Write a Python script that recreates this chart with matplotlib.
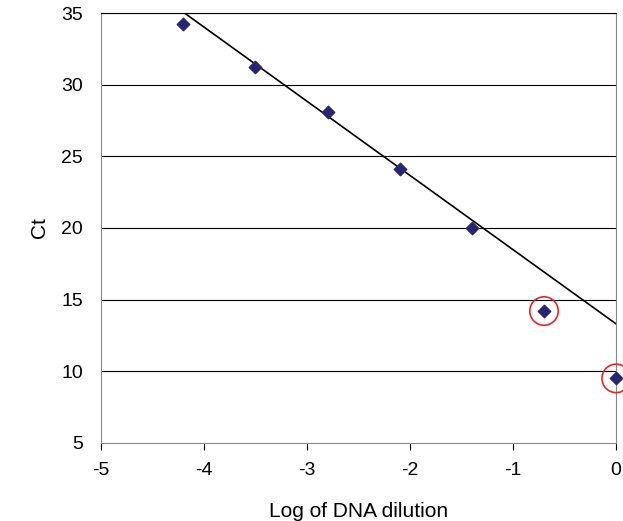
import matplotlib
matplotlib.use('Agg')
import matplotlib.pyplot as plt
import numpy as np

# data
log_dilution = [-4.2, -3.5, -2.8, -2.1, -1.4, -0.7, 0.0]
ct = [34.25, 31.25, 28.1, 24.1, 20.0, 14.2, 9.5]
outliers = [5, 6]            # circled points
trend_slope = -5.18
trend_intercept = 13.3

plt.rcParams['font.family'] = ['Liberation Sans', 'DejaVu Sans']
plt.rcParams['axes.unicode_minus'] = False

fig = plt.figure(figsize=(6.23, 5.21), dpi=100)
ax = fig.add_axes([0.162, 0.150, 0.827, 0.825])

ax.set_xlim(-5, 0)
ax.set_ylim(5, 35)
ax.set_yticks(range(5, 36, 5))
ax.set_xticks(range(-5, 1))

for y in range(10, 36, 5):
    ax.axhline(y, color='black', lw=0.8, zorder=1)

xs = np.array([-5.0, 0.0])
ax.plot(xs, trend_slope * xs + trend_intercept, color='black', lw=1.2, zorder=2)

ax.scatter(log_dilution, ct, marker='D', s=40, color='#262673', zorder=3, clip_on=False)
ax.scatter([log_dilution[i] for i in outliers], [ct[i] for i in outliers],
           s=420, facecolors='none', edgecolors='#e8262a', linewidths=1.2,
           zorder=4, clip_on=False)

for s in ax.spines.values():
    s.set_color('#888888')
ax.spines['top'].set_color('black')
ax.tick_params(axis='y', length=0, labelsize=14, pad=13)
ax.tick_params(axis='x', length=5, color='black', labelsize=14, pad=8.5)

ax.set_xlabel('Log of DNA dilution', fontsize=15, labelpad=17)
ax.set_ylabel('Ct', fontsize=15, labelpad=9)

fig.savefig('out.png', dpi=100)
